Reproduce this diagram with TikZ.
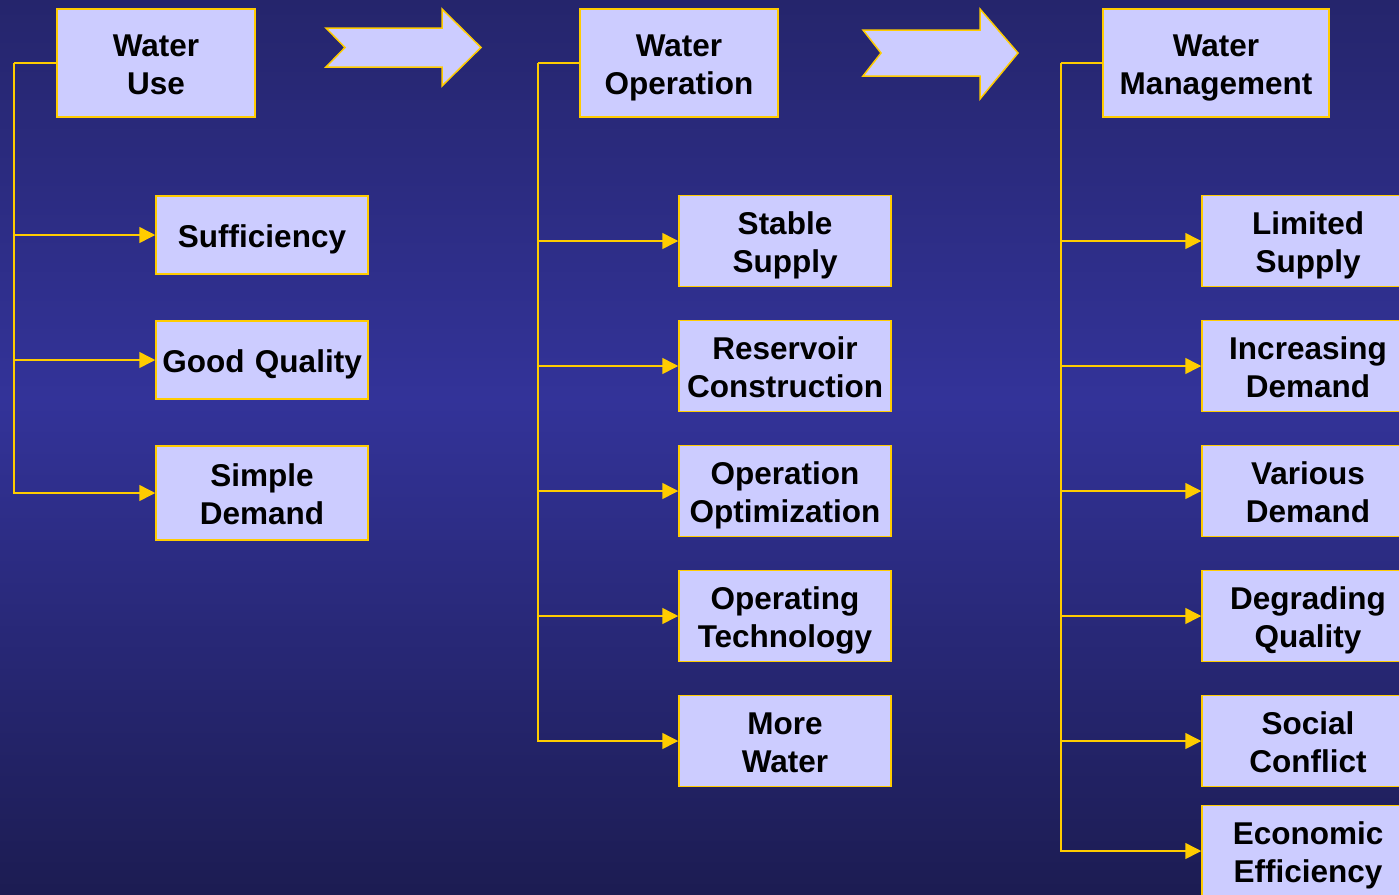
\documentclass[tikz,border=0pt]{standalone}
\usepackage{fontspec}
\setmainfont{Liberation Sans}
\usepackage{xcolor}
\usepackage{tikz}
\usetikzlibrary{shapes,arrows.meta}

\definecolor{navytop}{HTML}{25256C}
\definecolor{navymid}{HTML}{333399}
\definecolor{navybot}{HTML}{1C1C52}
\definecolor{boxfill}{HTML}{CCCCFF}
\definecolor{gold}{HTML}{FFCC00}

\tikzset{
  boxtext/.style={font=\bfseries\fontsize{31.5}{38}\selectfont, align=center,
    execute at begin node={\rule[-7pt]{0pt}{38pt}},
    execute at end node={\rule[-7pt]{0pt}{38pt}}},
  topbox/.style={rectangle, draw=gold, fill=boxfill, line width=1.5pt, minimum width=198pt, text width=198pt, minimum height=108pt, inner sep=0pt, boxtext},
  itembox/.style={rectangle, draw=gold, fill=boxfill, line width=1.5pt, minimum width=212pt, text width=212pt, minimum height=91pt, inner sep=0pt, boxtext},
  link/.style={draw=gold, line width=1.5pt},
  linkarrow/.style={link, -{Triangle[length=16pt,width=16pt]}},
  bigarrow/.style={draw=gold, fill=boxfill, line width=1.5pt}
}

\begin{document}
\begin{tikzpicture}[x=1pt, y=-1pt, node distance=125pt]
\shade[top color=navytop, bottom color=navymid] (0,0) rectangle (1399,400);
\shade[top color=navymid, bottom color=navybot] (0,399.5) rectangle (1399,894);
\useasboundingbox (0,0) rectangle (1399,894);

\node (use) [topbox] at (156,63) {Water\\Use};
\node (suff) [itembox, minimum height=78pt] at (262,235) {Sufficiency};
\node (good) [itembox, minimum height=78pt, below of=suff] {Good Quality};
\node (simple) [itembox, minimum height=94pt, node distance=133pt, below of=good] {Simple\\Demand};

\node (oper) [topbox] at (679,63) {Water\\Operation};
\node (stable) [itembox] at (785,241) {Stable\\Supply};
\node (reservoir) [itembox, below of=stable] {Reservoir\\Construction};
\node (optim) [itembox, below of=reservoir] {Operation\\Optimization};
\node (technology) [itembox, below of=optim] {Operating\\Technology};
\node (more) [itembox, below of=technology] {More\\Water};

\node (mgmt) [topbox, minimum width=226pt, text width=226pt] at (1216,63) {Water\\Management};
\node (limited) [itembox] at (1308,241) {Limited\\Supply};
\node (increasing) [itembox, below of=limited] {Increasing\\Demand};
\node (various) [itembox, below of=increasing] {Various\\Demand};
\node (degrading) [itembox, below of=various] {Degrading\\Quality};
\node (social) [itembox, below of=degrading] {Social\\Conflict};
\node (economic) [itembox, node distance=110pt, below of=social] {Economic\\Efficiency};

\coordinate (usebus) at (14,63);
\coordinate (operbus) at (538,63);
\coordinate (mgmtbus) at (1061,63);

\draw [link] (use.west) -- (usebus);
\draw [linkarrow] (usebus) |- (suff.west);
\draw [linkarrow] (usebus) |- (good.west);
\draw [linkarrow] (usebus) |- (simple.west);

\draw [link] (oper.west) -- (operbus);
\draw [linkarrow] (operbus) |- (stable.west);
\draw [linkarrow] (operbus) |- (reservoir.west);
\draw [linkarrow] (operbus) |- (optim.west);
\draw [linkarrow] (operbus) |- (technology.west);
\draw [linkarrow] (operbus) |- (more.west);

\draw [link] (mgmt.west) -- (mgmtbus);
\draw [linkarrow] (mgmtbus) |- (limited.west);
\draw [linkarrow] (mgmtbus) |- (increasing.west);
\draw [linkarrow] (mgmtbus) |- (various.west);
\draw [linkarrow] (mgmtbus) |- (degrading.west);
\draw [linkarrow] (mgmtbus) |- (social.west);
\draw [linkarrow] (mgmtbus) |- (economic.west);

\draw [bigarrow] (326,28) -- (442,28) -- (442,9) -- (481,47.5) -- (442,86) -- (442,67) -- (326,67) -- (345,47.5) -- cycle;
\draw [bigarrow] (863,30) -- (980,30) -- (980,9) -- (1018,53) -- (980,99) -- (980,76) -- (863,76) -- (881,53) -- cycle;
\end{tikzpicture}
\end{document}
